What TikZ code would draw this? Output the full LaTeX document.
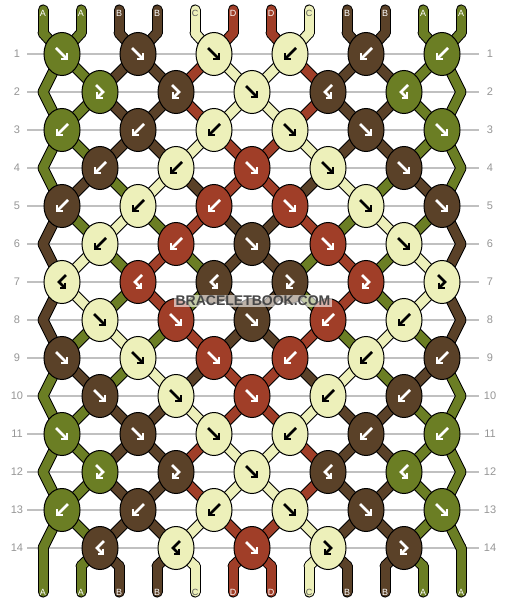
\documentclass[tikz,border=0pt]{standalone}
\usepackage{fontspec}
\setmainfont{Liberation Sans}
\usetikzlibrary{shapes.geometric}
\definecolor{bbgreen}{RGB}{107,126,36}
\definecolor{bbbrown}{RGB}{90,65,40}
\definecolor{bbcream}{RGB}{237,240,186}
\definecolor{bbrust}{RGB}{160,62,40}
\definecolor{bbgrid}{RGB}{192,192,192}
\definecolor{bbnum}{RGB}{150,150,150}
\definecolor{bbmark}{RGB}{70,70,70}
% string letters -> colours
\colorlet{strA}{bbgreen}
\colorlet{strB}{bbbrown}
\colorlet{strC}{bbcream}
\colorlet{strD}{bbrust}
\colorlet{arrA}{white}
\colorlet{arrB}{white}
\colorlet{arrC}{black}
\colorlet{arrD}{white}
\colorlet{labA}{white}
\colorlet{labB}{white}
\colorlet{labC}{black!65}
\colorlet{labD}{white}
\tikzstyle{knot} = [ellipse, minimum width=36pt, minimum height=43pt, inner sep=0pt, draw=black, line width=1pt]
\tikzstyle{strout} = [line width=11pt, line cap=round, line join=round, draw=black]
\tikzstyle{strin} = [line width=9pt, line cap=round, line join=round]
\tikzstyle{arrline} = [line width=2.6pt, line join=miter]
\tikzstyle{gridline} = [line width=1.2pt, draw=bbgrid]
\tikzstyle{rownum} = [font=\fontsize{11}{13}\selectfont, text=bbnum]
\tikzstyle{strlabel} = [font=\fontsize{9}{10}\selectfont, inner sep=0pt]
\tikzstyle{wmtext} = [font=\bfseries\fontsize{14}{16}\selectfont, inner sep=1.5pt, fill=white, fill opacity=0.6, text opacity=1]
% knot arrows
\tikzset{
  arrF/.pic={\draw[arrline] (-6,-6) -- (4.5,4.5); \draw[arrline] (-1,5) -- (5,5) -- (5,-1);},
  arrB/.pic={\draw[arrline] (6,-6) -- (-4.5,4.5); \draw[arrline] (1,5) -- (-5,5) -- (-5,-1);},
  arrFB/.pic={\draw[arrline] (-4,-7) -- (3,0) -- (-2.5,5.5); \draw[arrline] (-3,0.5) -- (-3,6) -- (2.5,6);},
  arrBF/.pic={\draw[arrline] (4,-7) -- (-3,0) -- (2.5,5.5); \draw[arrline] (3,0.5) -- (3,6) -- (-2.5,6);}
}
% strings after each row
\def\staterows{%
0/{A,A,B,B,C,D,D,C,B,B,A,A},%
1/{A,A,B,B,D,C,C,D,B,B,A,A},%
2/{A,A,B,B,D,C,C,D,B,B,A,A},%
3/{A,A,B,B,C,D,D,C,B,B,A,A},%
4/{A,B,A,C,B,D,D,B,C,A,B,A},%
5/{B,A,C,A,D,B,B,D,A,C,A,B},%
6/{B,C,A,D,A,B,B,A,D,A,C,B},%
7/{B,C,A,D,A,B,B,A,D,A,C,B},%
8/{B,A,C,A,D,B,B,D,A,C,A,B},%
9/{A,B,A,C,B,D,D,B,C,A,B,A},%
10/{A,A,B,B,C,D,D,C,B,B,A,A},%
11/{A,A,B,B,D,C,C,D,B,B,A,A},%
12/{A,A,B,B,D,C,C,D,B,B,A,A},%
13/{A,A,B,B,C,D,D,C,B,B,A,A},%
14/{A,A,B,B,C,D,D,C,B,B,A,A}}
% knot type / colour per row
\def\knotrows{%
1/{F/A,F/B,F/C,B/C,B/B,B/A},%
2/{FB/A,FB/B,F/C,BF/B,BF/A},%
3/{B/A,B/B,B/C,F/C,F/B,F/A},%
4/{B/B,B/C,F/D,F/C,F/B},%
5/{B/B,B/C,B/D,F/D,F/C,F/B},%
6/{B/C,B/D,F/B,F/D,F/C},%
7/{BF/C,BF/D,BF/B,FB/B,FB/D,FB/C},%
8/{F/C,F/D,F/B,B/D,B/C},%
9/{F/B,F/C,F/D,B/D,B/C,B/B},%
10/{F/B,F/C,F/D,B/C,B/B},%
11/{F/A,F/B,F/C,B/C,B/B,B/A},%
12/{FB/A,FB/B,F/C,BF/B,BF/A},%
13/{B/A,B/B,B/C,F/C,F/B,F/A},%
14/{BF/B,BF/C,F/D,FB/C,FB/B}}

\begin{document}
\begin{tikzpicture}[x=1pt,y=-1pt]
\useasboundingbox (0,0) rectangle (506,604);
\fill[white] (0,0) rectangle (506,604);

% row lines and numbers
\foreach \r in {1,...,14}{
  \draw[gridline] (27,16+38*\r) -- (479,16+38*\r);
  \node[rownum] (numL\r) at (17,16+38*\r) {\r};
  \node[rownum] (numR\r) at (490,16+38*\r) {\r};
}

% string points
\foreach \r in {1,...,14}{
  \foreach \p in {0,...,11}{
    \pgfmathsetmacro\kx{mod(\r,2)==1 ? 62+76*floor(\p/2) : (\p==0 ? 43 : (\p==11 ? 461 : 100+76*floor((\p-1)/2)))}
    \coordinate (s\r-\p) at (\kx,16+38*\r);
  }
}
\foreach \p in {0,...,11}{
  \pgfmathsetmacro\sx{43+38*\p}
  \coordinate (tt\p) at (\sx,10);
  \coordinate (s0-\p) at (\sx,33);
  \coordinate (s15-\p) at (\sx,566);
  \coordinate (bb\p) at (\sx,592);
}

% strings: outline, then colour
\foreach \c [count=\p from 0] in {A,A,B,B,C,D,D,C,B,B,A,A}{
  \draw[strout] (tt\p) -- (s0-\p);
  \draw[strout] (s15-\p) -- (bb\p);
}
\foreach \r/\slist in \staterows{
  \pgfmathtruncatemacro\rn{\r+1}
  \foreach \c [count=\p from 0] in \slist
    \draw[strout] (s\r-\p) -- (s\rn-\p);
}
\foreach \c [count=\p from 0] in {A,A,B,B,C,D,D,C,B,B,A,A}{
  \draw[strin, draw=str\c] (tt\p) -- (s0-\p);
  \draw[strin, draw=str\c] (s15-\p) -- (bb\p);
}
\foreach \r/\slist in \staterows{
  \pgfmathtruncatemacro\rn{\r+1}
  \foreach \c [count=\p from 0] in \slist
    \draw[strin, draw=str\c] (s\r-\p) -- (s\rn-\p);
}

% string letters
\foreach \c [count=\p from 0] in {A,A,B,B,C,D,D,C,B,B,A,A}{
  \node[strlabel, text=lab\c] (top\p) at ([yshift=-3pt]tt\p) {\c};
  \node[strlabel, text=lab\c] (bot\p) at (bb\p) {\c};
}

% knots
\foreach \r/\klist in \knotrows{
  \foreach \t/\c [count=\i from 0] in \klist{
    \pgfmathsetmacro\kx{mod(\r,2)==1 ? 62+76*\i : 100+76*\i}
    \node[knot, fill=str\c] (k\r-\i) at (\kx,16+38*\r) {};
    \pic[color=arr\c] at (k\r-\i) {arr\t};
  }
}

% watermark
\node[wmtext, text=bbmark] (wmark) at (253,301) {BRACELETBOOK.COM};
\end{tikzpicture}
\end{document}
